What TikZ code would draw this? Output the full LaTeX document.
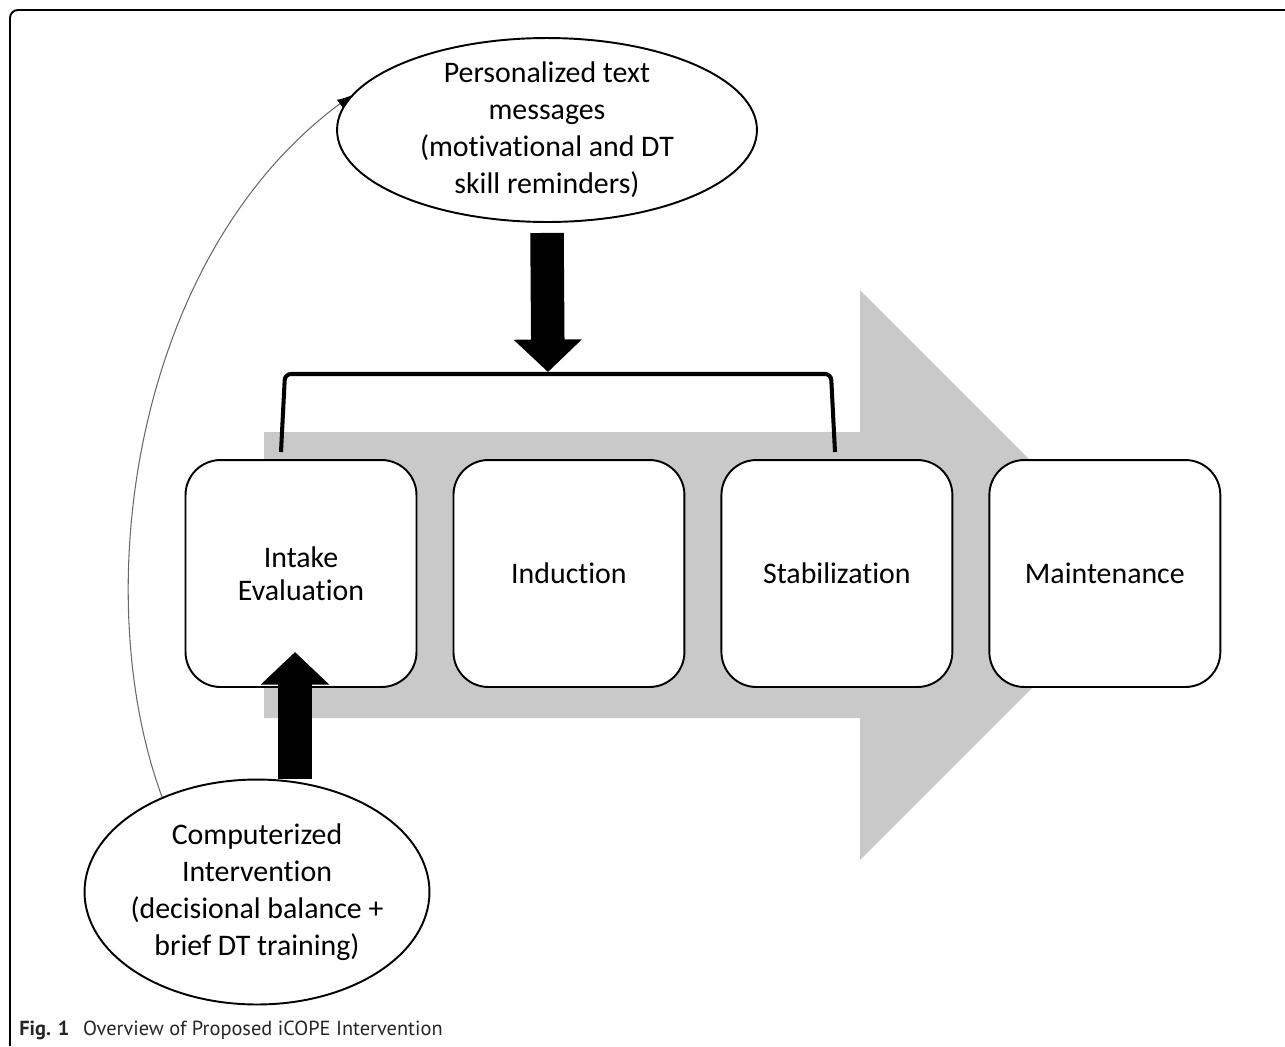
\documentclass[tikz,border=0pt]{standalone}
\usepackage{fontspec}
\setmainfont[Ligatures=NoCommon]{Carlito}
\newfontfamily\capfont{PT Sans}
\usetikzlibrary{positioning,shapes.geometric,arrows.meta}
\definecolor{arrowgray}{RGB}{201,201,201}
\definecolor{curvegray}{RGB}{105,105,105}

\tikzset{
	phase/.style={draw, line width=1.1pt, fill=white, rounded corners=0.7cm, minimum width=4.62cm, minimum height=4.54cm, inner sep=0pt, outer sep=0pt, align=center, font=\fontsize{17}{19}\selectfont},
	cloud/.style={draw, ellipse, line width=1.1pt, fill=white, inner xsep=-0.5cm, inner ysep=-0.15cm, align=center, font=\fontsize{17}{21}\selectfont},
	blockarrow/.style={line width=0.67cm, -{Triangle[length=0.65cm, width=1.33cm]}},
	curvearrow/.style={curvegray, line width=0.6pt, -{Latex[length=0.28cm, width=0.2cm, color=black]}}
}

\begin{document}
\begin{tikzpicture}[x=0.02cm, y=-0.02cm]
	\useasboundingbox (0,0) rectangle (1285,1046);
	% frame and caption
	\draw[line width=1.1pt, rounded corners=0.16cm] (10,1046) -- (10,10) -- (1285,10);
	\node[anchor=base west, inner sep=0pt, font=\capfont\fontsize{11.6}{13}\selectfont, text=black!85] (cap) at (19,1035) {\textbf{Fig. 1}\hspace{0.27cm}Overview of Proposed iCOPE Intervention};
	% big grey arrow behind the phases
	\fill[arrowgray] (264,432) -- (860,432) -- (860,290) -- (1145,575) -- (860,860) -- (860,718) -- (264,718) -- cycle;
	% bracket
	\draw[line width=2.3pt, rounded corners=0.12cm] (281,452) -- (285,374) -- (831,374) -- (835,452);
	\coordinate (brk) at (548,372);
	% phases
	\node[phase] (ie) at (301,573.5) {Intake\\Evaluation};
	\node[phase, right=0.74cm of ie] (ind) {Induction};
	\node[phase, right=0.74cm of ind] (stab) {Stabilization};
	\node[phase, right=0.74cm of stab] (maint) {Maintenance};
	% ellipses
	\node[cloud, minimum width=8.4cm, minimum height=3.68cm] (pers) at (547,130) {Personalized text\\messages\\(motivational and DT\\skill reminders)};
	\node[cloud, minimum width=6.9cm, minimum height=4.5cm] (comp) at (257,892) {Computerized\\Intervention\\(decisional balance +\\brief DT training)};
	% arrows
	\coordinate (up) at (295,652);
	\draw[blockarrow] ([yshift=-0.2cm]pers.south) -- (brk);
	\draw[blockarrow] (up |- comp.north) -- (up);
	\draw[curvearrow] (comp.135) .. controls (86,590) and (135,255) .. (pers.170);
\end{tikzpicture}
\end{document}
